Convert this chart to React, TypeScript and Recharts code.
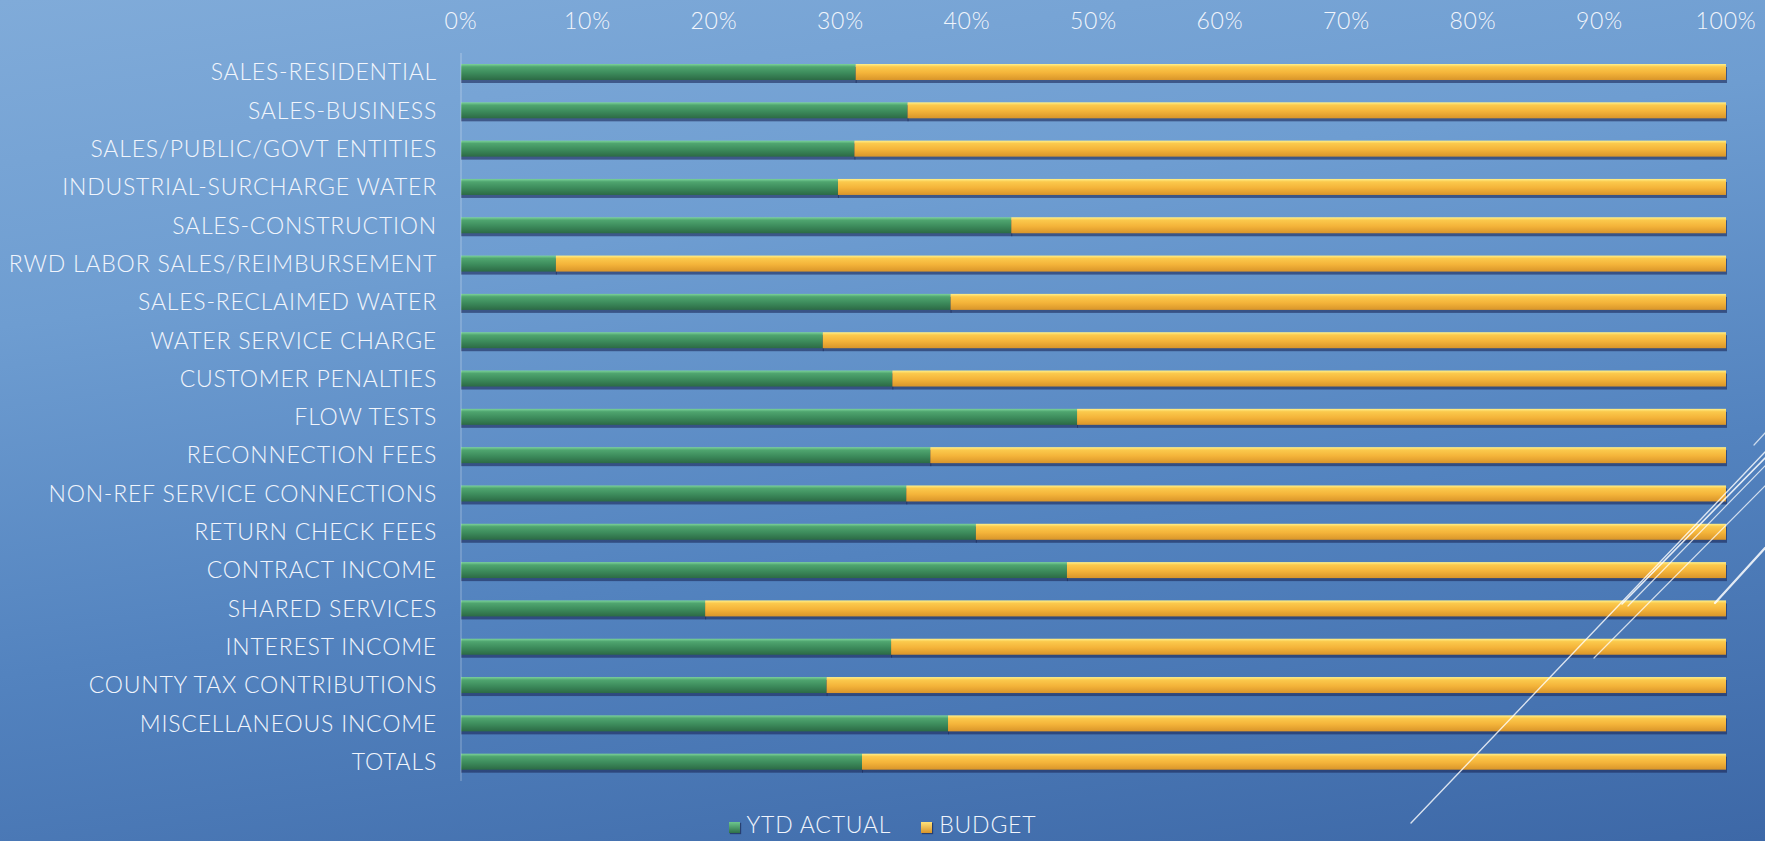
import { BarChart, Bar, XAxis, YAxis } from "recharts";

// revenue lines, top to bottom
const categories = [
  "SALES-RESIDENTIAL",
  "SALES-BUSINESS",
  "SALES/PUBLIC/GOVT ENTITIES",
  "INDUSTRIAL-SURCHARGE WATER",
  "SALES-CONSTRUCTION",
  "RWD LABOR SALES/REIMBURSEMENT",
  "SALES-RECLAIMED WATER",
  "WATER SERVICE CHARGE",
  "CUSTOMER PENALTIES",
  "FLOW TESTS",
  "RECONNECTION FEES",
  "NON-REF SERVICE CONNECTIONS",
  "RETURN CHECK FEES",
  "CONTRACT INCOME",
  "SHARED SERVICES",
  "INTEREST INCOME",
  "COUNTY TAX CONTRIBUTIONS",
  "MISCELLANEOUS INCOME",
  "TOTALS",
];

// share of the bar (percent)
const ytdActual = [31.2, 35.3, 31.1, 29.8, 43.5, 7.5, 38.7, 28.6, 34.1, 48.7, 37.1, 35.2, 40.7, 47.9, 19.3, 34.0, 28.9, 38.5, 31.7];
const budget = [68.8, 64.7, 68.9, 70.2, 56.5, 92.5, 61.3, 71.4, 65.9, 51.3, 62.9, 64.8, 59.3, 52.1, 80.7, 66.0, 71.1, 61.5, 68.3];

const pctTicks = [0, 10, 20, 30, 40, 50, 60, 70, 80, 90, 100];

const data = categories.map((name, i) => ({ name, actual: ytdActual[i], budget: budget[i] }));

const W = 1765;
const H = 841;
const FONT = "Lato, 'Open Sans', sans-serif";
const TEXT = "#f1f5fc";
const labelStyle = { fill: TEXT, fontSize: 23, fontFamily: FONT, fontWeight: 300, letterSpacing: 0.8 };

function GlossyBar(props: any) {
  const { x, y, width, height, gradient } = props;
  if (!width || width <= 0) return null;
  return (
    <g>
      <rect x={x} y={y + 3} width={width + 1} height={height} fill="#1b2858" fillOpacity={0.6} />
      <rect x={x} y={y} width={width} height={height} fill={`url(#${gradient})`} />
    </g>
  );
}

function LegendSwatch({ from, to }: { from: string; to: string }) {
  return (
    <span
      style={{
        display: "inline-block",
        width: 11,
        height: 11,
        marginRight: 7,
        background: `linear-gradient(${from}, ${to})`,
        boxShadow: "1px 1px 1px rgba(20,30,70,0.6)",
      }}
    />
  );
}

export default function App() {
  return (
    <div
      style={{
        position: "absolute",
        left: 0,
        top: 0,
        width: W,
        height: H,
        overflow: "hidden",
        background: "linear-gradient(172deg, #80abd9 0%, #6e9dd1 30%, #5383bf 62%, #3d68a7 100%)",
        fontFamily: FONT,
      }}
    >
      <BarChart
        width={W}
        height={H}
        data={data}
        layout="vertical"
        barSize={16}
        margin={{ top: 0, right: 39, bottom: 60, left: 10 }}
      >
        <defs>
          <linearGradient id="gradActual" x1="0" y1="0" x2="0" y2="1">
            <stop offset="0%" stopColor="#7cd39a" />
            <stop offset="18%" stopColor="#4fa56f" />
            <stop offset="55%" stopColor="#3d8c5c" />
            <stop offset="100%" stopColor="#2c6a45" />
          </linearGradient>
          <linearGradient id="gradBudget" x1="0" y1="0" x2="0" y2="1">
            <stop offset="0%" stopColor="#fff08a" />
            <stop offset="18%" stopColor="#fbc94c" />
            <stop offset="55%" stopColor="#f4b43a" />
            <stop offset="100%" stopColor="#d9952a" />
          </linearGradient>
        </defs>
        <XAxis
          type="number"
          orientation="top"
          domain={[0, 100]}
          ticks={pctTicks}
          tickFormatter={(v) => `${v}%`}
          height={53}
          axisLine={false}
          tickLine={false}
          tickSize={0}
          tickMargin={24}
          tick={labelStyle}
        />
        <YAxis
          type="category"
          dataKey="name"
          width={451}
          interval={0}
          axisLine={{ stroke: "#ffffff", strokeOpacity: 0.35 }}
          tickLine={false}
          tickSize={0}
          tickMargin={24}
          tick={labelStyle}
        />
        <Bar
          dataKey="actual"
          name="YTD ACTUAL"
          stackId="a"
          isAnimationActive={false}
          shape={(p: any) => <GlossyBar {...p} gradient="gradActual" />}
        />
        <Bar
          dataKey="budget"
          name="BUDGET"
          stackId="a"
          isAnimationActive={false}
          shape={(p: any) => <GlossyBar {...p} gradient="gradBudget" />}
        />
      </BarChart>

      {/* decorative streaks in the lower right corner */}
      <svg width={W} height={H} style={{ position: "absolute", left: 0, top: 0, pointerEvents: "none" }}>
        <g stroke="#ffffff" strokeLinecap="round" fill="none">
          <line x1={1411} y1={823} x2={1765} y2={452} strokeWidth={1.4} strokeOpacity={0.8} />
          <line x1={1622} y1={604} x2={1765} y2={458} strokeWidth={1.6} strokeOpacity={0.85} />
          <line x1={1628} y1={606} x2={1765} y2={466} strokeWidth={1.2} strokeOpacity={0.75} />
          <line x1={1594} y1={658} x2={1765} y2={486} strokeWidth={1.2} strokeOpacity={0.75} />
          <line x1={1715} y1={603} x2={1765} y2={548} strokeWidth={2.2} strokeOpacity={0.85} />
          <line x1={1754} y1={445} x2={1765} y2={433} strokeWidth={1.2} strokeOpacity={0.7} />
        </g>
      </svg>

      <div
        style={{
          position: "absolute",
          left: 0,
          top: 811,
          width: W,
          textAlign: "center",
          color: TEXT,
          fontSize: 23,
          fontWeight: 300,
          letterSpacing: 0.8,
          lineHeight: "26px",
          whiteSpace: "nowrap",
        }}
      >
        <span>
          <LegendSwatch from="#6cc68c" to="#2f7049" />
          YTD ACTUAL
        </span>
        <span style={{ marginLeft: 30 }}>
          <LegendSwatch from="#ffe27a" to="#d9952a" />
          BUDGET
        </span>
      </div>
    </div>
  );
}
